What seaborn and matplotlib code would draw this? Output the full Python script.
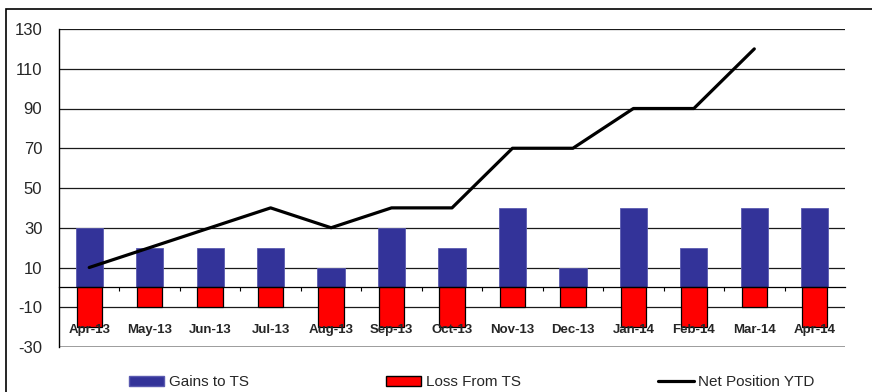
import matplotlib
matplotlib.use("Agg")
import matplotlib.pyplot as plt
import seaborn as sns
import pandas as pd
from matplotlib.patches import Rectangle
from matplotlib.lines import Line2D
from matplotlib.patches import Patch

months = ["Apr-13", "May-13", "Jun-13", "Jul-13", "Aug-13", "Sep-13", "Oct-13",
          "Nov-13", "Dec-13", "Jan-14", "Feb-14", "Mar-14", "Apr-14"]
gains = [30, 20, 20, 20, 10, 30, 20, 40, 10, 40, 20, 40, 40]
losses = [-20, -10, -10, -10, -20, -20, -20, -10, -10, -20, -20, -10, -20]
net = [10, 20, 30, 40, 30, 40, 40, 70, 70, 90, 90, 120, None]
yticks = [-30, -10, 10, 30, 50, 70, 90, 110, 130]

sns.set_theme(style="white")
plt.rcParams["font.family"] = ["Liberation Sans", "DejaVu Sans"]

df = pd.DataFrame({"month": months, "gains": gains, "losses": losses, "net": net})

fig = plt.figure(figsize=(8.72, 3.92), dpi=100)
ax = fig.add_axes([59/872, 1-347/392, 786/872, 318/392])

sns.barplot(data=df, x="month", y="gains", color="#333399", width=0.45,
            saturation=1, ax=ax, edgecolor="#5a5ab0", linewidth=0.6, zorder=3)
sns.barplot(data=df, x="month", y="losses", color="#ff0000", width=0.42,
            saturation=1, ax=ax, edgecolor="black", linewidth=0.9, zorder=3)
xs = list(range(len(months)))
sns.lineplot(x=xs, y=df["net"], color="black", linewidth=2.3, ax=ax, zorder=4)

ax.set_xlim(-0.5, len(months) - 0.5)
ax.set_ylim(-30, 130)
ax.set_yticks(yticks)
ax.set_yticklabels([str(v) for v in yticks], fontsize=12)
ax.tick_params(axis="y", length=0, pad=12)
for v in yticks:
    ax.axhline(v, color="#808080" if v == -30 else "#1a1a1a",
               linewidth=1.8 if v == -30 else 0.9, zorder=1)
ax.set_xlabel("")
ax.set_ylabel("")

# bottom spine at zero, ticks at category boundaries
ax.spines["bottom"].set_position(("data", 0))
ax.spines["bottom"].set_color("black")
ax.spines["bottom"].set_linewidth(0.9)
ax.spines["bottom"].set_zorder(5)
ax.set_xticks([i + 0.5 for i in range(len(months) - 1)])
ax.set_xticklabels([])
ax.tick_params(axis="x", direction="out", length=3, width=0.8, color="black", bottom=True)
ax.spines["top"].set_visible(False)
ax.spines["right"].set_visible(False)
ax.spines["left"].set_color("black")
ax.spines["left"].set_linewidth(1.0)

for i, m in enumerate(months):
    ax.text(i, -21.5, m, ha="center", va="center", fontsize=9.5,
            fontweight="bold", zorder=6)

handles = [Patch(facecolor="#333399", edgecolor="#5a5ab0"),
           Patch(facecolor="#ff0000", edgecolor="black"),
           Line2D([0], [0], color="black", linewidth=2.3)]
labels = ["Gains to TS", "Loss From TS", "Net Position YTD"]
fig.legend(handles, labels, loc="center", bbox_to_anchor=(0.541, 0.025), ncol=3,
           frameon=False, fontsize=11, handlelength=2.3, handleheight=0.7,
           handletextpad=0.3, columnspacing=9.0)

fig.patches.append(Rectangle((6/872, -0.1), 1.2, 1 - 9/392 + 0.1,
                             transform=fig.transFigure, fill=False,
                             edgecolor="black", linewidth=1.2))

fig.savefig("out.png", dpi=100)
